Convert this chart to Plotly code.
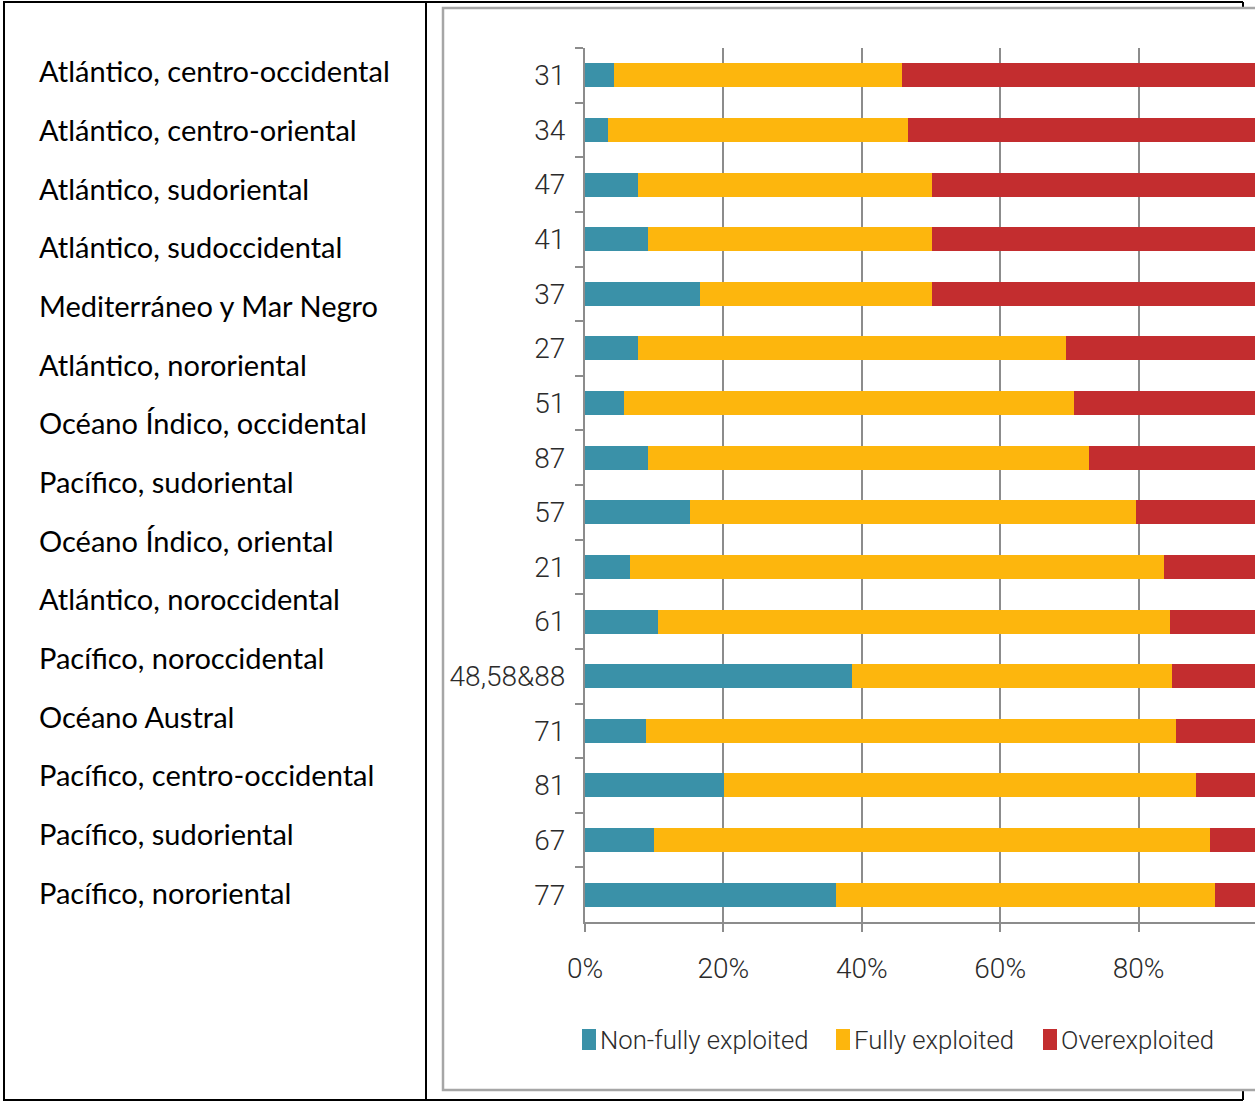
import plotly.graph_objects as go

# FAO fishing areas, top to bottom
areas = ["31", "34", "47", "41", "37", "27", "51", "87", "57", "21", "61",
         "48,58&88", "71", "81", "67", "77"]

# Share of stocks (%) in each exploitation status
non_fully = [4.2, 3.3, 7.7, 9.1, 16.6, 7.7, 5.6, 9.1, 15.2, 6.5, 10.6, 38.6, 8.8, 20.1, 10.0, 36.3]
fully = [41.6, 43.4, 42.4, 41.0, 33.5, 61.8, 65.0, 63.8, 64.4, 77.1, 73.9, 46.2, 76.6, 68.2, 80.3, 54.8]
over = [54.2, 53.3, 49.9, 49.9, 49.9, 30.5, 29.4, 27.1, 20.4, 16.4, 15.5, 15.2, 14.6, 11.7, 9.7, 8.9]

series_names = ["Non-fully exploited", "Fully exploited", "Overexploited"]
series_colors = ["#3A91A8", "#FDB60D", "#C32D2F"]

region_names = [
    "Atlántico, centro-occidental",
    "Atlántico, centro-oriental",
    "Atlántico, sudoriental",
    "Atlántico, sudoccidental",
    "Mediterráneo y Mar Negro",
    "Atlántico, nororiental",
    "Océano Índico, occidental",
    "Pacífico, sudoriental",
    "Océano Índico, oriental",
    "Atlántico, noroccidental",
    "Pacífico, noroccidental",
    "Océano Austral",
    "Pacífico, centro-occidental",
    "Pacífico, sudoriental",
    "Pacífico, nororiental",
]

x_tick_vals = [0, 20, 40, 60, 80, 100]
x_tick_text = ["0%", "20%", "40%", "60%", "80%", "100%"]

# Page geometry (pixels)
W, H = 1300, 1102
L, R, T, B = 585, W - 1277, 48, 180
PW, PH = W - L - R, H - T - B


def px(x):
    return (x - L) / PW


def py(y):
    return 1 - (y - T) / PH


AXIS_GRAY = "#8C8C8C"
CHART_FAMILY = "Roboto, sans-serif"
TICK_FONT = dict(family=CHART_FAMILY, size=28, color="#2b2b2b", weight=300)

fig = go.Figure()
for name, vals, col in zip(series_names, [non_fully, fully, over], series_colors):
    fig.add_trace(go.Bar(
        y=areas, x=vals, name=name, orientation="h",
        marker=dict(color=col, line=dict(width=0)),
        showlegend=False,
    ))

fig.update_layout(
    width=W, height=H,
    margin=dict(l=L, r=R, t=T, b=B, pad=0),
    barmode="stack", bargap=0.56,
    paper_bgcolor="white", plot_bgcolor="white",
    font=TICK_FONT,
)

fig.update_xaxes(
    range=[0, 100], tickvals=x_tick_vals, ticktext=x_tick_text,
    showgrid=True, gridcolor=AXIS_GRAY, gridwidth=2,
    showline=True, linecolor=AXIS_GRAY, linewidth=2,
    ticks="outside", ticklen=8, tickwidth=2, tickcolor=AXIS_GRAY,
    ticklabelstandoff=12, zeroline=False, tickfont=TICK_FONT,
)
fig.update_yaxes(
    type="category", autorange="reversed",
    showgrid=False, showline=True, linecolor=AXIS_GRAY, linewidth=2,
    ticks="outside", tickson="boundaries", ticklen=8, tickwidth=2,
    tickcolor=AXIS_GRAY, ticklabelstandoff=12, tickfont=TICK_FONT,
)

shapes = []
BLACK = dict(color="black", width=2)
# table cell borders
shapes.append(dict(type="line", xref="paper", yref="paper",
                   x0=px(3), x1=px(1243), y0=py(2), y1=py(2), line=BLACK, layer="below"))
shapes.append(dict(type="line", xref="paper", yref="paper",
                   x0=px(3), x1=px(1243), y0=py(1100), y1=py(1100), line=BLACK, layer="below"))
shapes.append(dict(type="line", xref="paper", yref="paper",
                   x0=px(4), x1=px(4), y0=py(2), y1=py(1100), line=BLACK, layer="below"))
shapes.append(dict(type="line", xref="paper", yref="paper",
                   x0=px(426), x1=px(426), y0=py(2), y1=py(1100), line=BLACK, layer="below"))
shapes.append(dict(type="line", xref="paper", yref="paper",
                   x0=px(1243), x1=px(1243), y0=py(2), y1=py(7), line=BLACK, layer="below"))
shapes.append(dict(type="line", xref="paper", yref="paper",
                   x0=px(1243), x1=px(1243), y0=py(1091), y1=py(1100), line=BLACK, layer="below"))
# chart frame
shapes.append(dict(type="rect", xref="paper", yref="paper",
                   x0=px(443), x1=px(1320), y0=py(8), y1=py(1090),
                   line=dict(color="#A6A6A6", width=2.5), fillcolor="rgba(0,0,0,0)",
                   layer="below"))

annotations = []
# region names in the left cell
for i, name in enumerate(region_names):
    annotations.append(dict(
        text=name, xref="paper", yref="paper",
        x=px(37), y=py(71 + 58.65 * i), xanchor="left", yanchor="middle",
        showarrow=False,
        font=dict(family="Lato, Carlito, sans-serif", size=29, color="black", weight=400),
    ))

# legend
legend_x = [582, 836, 1043]
for name, col, lx in zip(series_names, series_colors, legend_x):
    shapes.append(dict(type="rect", xref="paper", yref="paper",
                       x0=px(lx), x1=px(lx + 14), y0=py(1029), y1=py(1050),
                       line=dict(width=0), fillcolor=col))
    annotations.append(dict(
        text=name, xref="paper", yref="paper",
        x=px(lx + 16), y=py(1040), xanchor="left", yanchor="middle",
        showarrow=False,
        font=dict(family=CHART_FAMILY, size=25.7, color="#2b2b2b", weight=300),
    ))

fig.update_layout(shapes=shapes, annotations=annotations)

fig.write_html(
    "out.html",
    post_script="document.documentElement.style.overflow='hidden';"
                "document.body.style.overflow='hidden';",
)
